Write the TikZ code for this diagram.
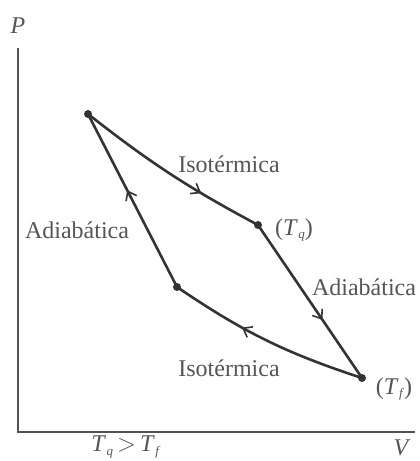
\documentclass[tikz,border=0pt]{standalone}
\usepackage{fontspec}
\setmainfont{Liberation Serif}
\usetikzlibrary{arrows.meta,decorations.markings}
\definecolor{ln}{HTML}{333333}
\definecolor{tx}{HTML}{555555}
\newcommand{\Tsub}[1]{\textit{T}\kern0.5pt\raisebox{-0.35ex}{\fontsize{13}{13}\selectfont\textit{#1}}}
\tikzset{
  cyc/.style={draw=ln, line width=2.6pt},
  axis/.style={draw=ln!85, line width=1.5pt},
  lbl/.style={text=tx, font=\fontsize{24}{26}\selectfont, inner sep=0pt},
  pt/.style={circle, fill=ln, inner sep=0pt, minimum size=8pt},
  arr/.style={postaction={decorate}, decoration={markings,
     mark=at position #1 with {\arrow[line width=1.6pt]{Straight Barb[length=8pt,width=12pt]}}}}
}
\begin{document}
\begin{tikzpicture}[x=1pt,y=-1pt]
\useasboundingbox (0,0) rectangle (420,461);
% axes
\coordinate (o) at (18,432);
\coordinate (ytop) at (18,48);
\coordinate (xend) at (415,432);
\draw[axis] (ytop) -- (o) -- (xend);
\node[lbl] (P) at (18,26) {\textit{P}};
\node[lbl] (V) at (402,448) {\textit{V}};
\node[lbl] (cond) at (126,447) {\Tsub{q}\,$>$\,\Tsub{f}};
% states
\node[pt] (A) at (88,114) {};
\node[pt] (B) at (258,225) {};
\node[pt] (C) at (362,378) {};
\node[pt] (D) at (177,287) {};
% cycle
\draw[cyc, arr=0.68] (A.center) to[bend right=5] (B.center);
\draw[cyc, arr=0.62] (B.center) -- (C.center);
\draw[cyc, arr=0.63] (C.center) to[bend left=8] (D.center);
\draw[cyc, arr=0.56] (D.center) -- (A.center);
% labels
\node[lbl] (iso1) at (229,164) {Isotérmica};
\node[lbl] (iso2) at (229,368) {Isotérmica};
\node[lbl] (ad1) at (77,230) {Adiabática};
\node[lbl] (ad2) at (364,287) {Adiabática};
\node[lbl] (tq) at (294,230) {(\Tsub{q})};
\node[lbl] (tf) at (394,389) {(\Tsub{f})};
\end{tikzpicture}
\end{document}
